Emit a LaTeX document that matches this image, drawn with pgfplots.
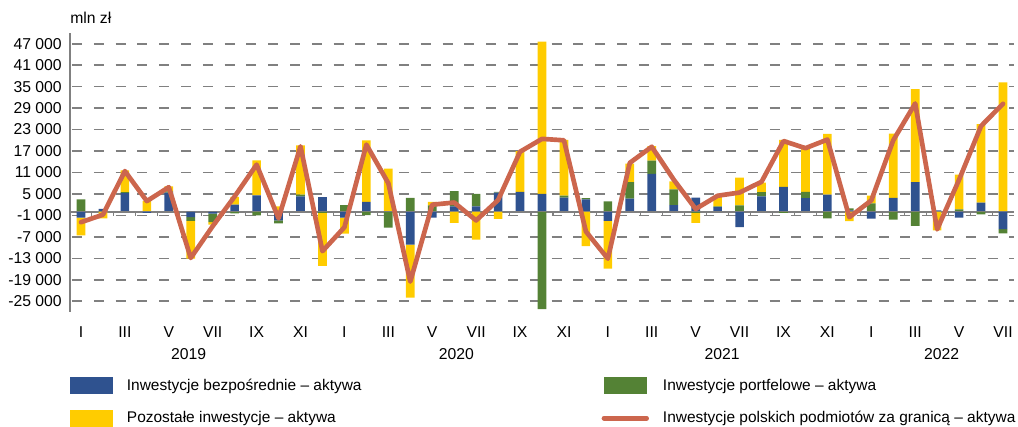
\documentclass[border=0pt]{standalone}
\usepackage{pgfplots}
\pgfplotsset{compat=1.18}
\usepackage{pgfplotstable}
\usepackage{fontspec}
\setmainfont{Liberation Sans}
\definecolor{cblue}{RGB}{47,82,143}
\definecolor{cgreen}{RGB}{84,130,53}
\definecolor{cyellow}{RGB}{255,204,0}
\definecolor{cline}{RGB}{204,102,77}
\definecolor{cgrid}{RGB}{128,128,128}

% b = Inwestycje bezposrednie, g = portfelowe, y = pozostale, t = razem (mln zl)
\pgfplotstableread{
x b g y t
0 -1600 3500 -5000 -2900
1 800 0 -1800 -800
2 5200 300 6100 11400
3 -300 200 2900 3000
4 5400 300 1400 6900
5 -1500 -1000 -10600 -12900
6 -500 -2400 -700 -4000
7 2000 -400 2200 4300
8 4600 -1000 9800 13200
9 -2400 -800 1500 -1800
10 4300 500 13800 18300
11 4100 -300 -14800 -11000
12 -1600 1900 -4500 -4300
13 2800 -900 17200 18800
14 200 -4400 11900 8000
15 -9200 3900 -14800 -19500
16 -1600 1800 1000 2000
17 1500 4300 -3100 2600
18 1500 3500 -7800 -2400
19 5400 200 -2000 3300
20 5600 0 11400 16800
21 5000 -27200 42600 20400
22 4000 500 15600 20000
23 3500 300 -9600 -5500
24 -2500 2900 -13400 -13100
25 3700 4600 5200 13700
26 10600 3700 4100 18200
27 1900 4400 2200 9000
28 4000 -300 -2800 800
29 1300 200 2800 4500
30 -4300 1800 7800 5400
31 4300 1200 2700 8400
32 7000 -300 13100 19800
33 3800 1800 12100 17800
34 4800 -1800 17000 20200
35 400 600 -2600 -1500
36 -1900 2400 2100 3200
37 3900 -2200 18000 20000
38 8300 -3900 26000 30300
39 400 0 -5200 -4900
40 -1600 700 9700 9000
41 2600 -700 21900 24000
42 -4800 -1200 36200 30200
}\data

\pgfplotsset{common/.style={
  scale only axis, width=708pt, height=209.25pt,
  xmin=-0.5, xmax=42.5, ymin=-28000, ymax=50000,
  at={(52.5pt,86.25pt)}, anchor=south west,
  bar width=6.5pt, clip=false, scaled y ticks=false,
},
arealeg/.style={legend image code/.code={\fill[##1] (0pt,-6.5pt) rectangle (32pt,6.5pt);}},
lineleg/.style={legend image code/.code={\draw[##1] (0pt,0pt) -- (32pt,0pt);}},
}
\newcommand{\lf}{\fontsize{11.8}{14}\selectfont}
\newcommand{\lgf}{\fontsize{11.6}{14}\selectfont}

\begin{document}
\begin{tikzpicture}
\path[use as bounding box] (0,0) rectangle (763.5pt,320.25pt);
% positive parts, grid, ticks, labels
\begin{axis}[common, ybar stacked,
  axis lines*=left,
  x axis line style={draw=none},
  y axis line style={cgrid, line width=1.5pt},
  ytick={-25000,-19000,...,47000},
  yticklabels={-25 000,-19 000,-13 000,-7 000,-1 000,5 000,11 000,17 000,23 000,29 000,35 000,41 000,47 000},
  xtick={0,2,...,42},
  xticklabels={I,III,V,VII,IX,XI,I,III,V,VII,IX,XI,I,III,V,VII,IX,XI,I,III,V,VII},
  major tick length=0pt,
  ymajorgrids,
  major grid style={cgrid, line width=1.2pt, dash pattern=on 7.5pt off 8.85pt, dash phase=14.85pt},
  tick label style={font=\lf},
  yticklabel style={inner sep=0pt, xshift=-6pt},
  xticklabel style={inner sep=0pt, yshift=-11pt},
]
\addplot[fill=cblue, draw=none] table[x=x, y expr={max(\thisrow{b},0)}] {\data};
\addplot[fill=cgreen, draw=none] table[x=x, y expr={max(\thisrow{g},0)}] {\data};
\addplot[fill=cyellow, draw=none] table[x=x, y expr={max(\thisrow{y},0)}] {\data};
\node[anchor=south west, inner sep=0pt, font=\lf] at (rel axis cs:0,1) [yshift=7pt] {mln zł};
\node[font=\lf, anchor=north, inner sep=0pt] at (axis cs:4.9,-28000) [yshift=-27pt] {2019};
\node[font=\lf, anchor=north, inner sep=0pt] at (axis cs:17.1,-28000) [yshift=-27pt] {2020};
\node[font=\lf, anchor=north, inner sep=0pt] at (axis cs:29.2,-28000) [yshift=-27pt] {2021};
\node[font=\lf, anchor=north, inner sep=0pt] at (axis cs:39.2,-28000) [yshift=-27pt] {2022};
\end{axis}
% negative parts
\begin{axis}[common, ybar stacked, hide axis]
\addplot[fill=cblue, draw=none] table[x=x, y expr={min(\thisrow{b},0)}] {\data};
\addplot[fill=cgreen, draw=none] table[x=x, y expr={min(\thisrow{g},0)}] {\data};
\addplot[fill=cyellow, draw=none] table[x=x, y expr={min(\thisrow{y},0)}] {\data};
\draw[cgrid, line width=1.2pt] (axis cs:-0.5,0) -- (axis cs:42.5,0);
\pgfplotsinvokeforeach{0,...,41}{\draw[cgrid, line width=0.8pt] (axis cs:#1.5,0) -- ++(0pt,-3pt);}
\end{axis}
% total line and legend
\begin{axis}[common, hide axis,
  legend columns=2,
  legend cell align=left,
  legend style={at={(0,-0.229)}, anchor=north west, draw=none, fill=none,
    inner sep=0pt, font=\lgf, row sep=10.5pt,
    /tikz/every odd column/.append style={column sep=8.5pt},
    /tikz/every even column/.append style={column sep=178pt}},
]
\addlegendimage{fill=cblue, draw=none, arealeg}
\addlegendentry{Inwestycje bezpośrednie – aktywa}
\addlegendimage{fill=cgreen, draw=none, arealeg}
\addlegendentry{Inwestycje portfelowe – aktywa}
\addlegendimage{fill=cyellow, draw=none, arealeg}
\addlegendentry{Pozostałe inwestycje – aktywa}
\addplot[sharp plot, draw=cline, line width=3.5pt, line join=round, line cap=round, mark=none, lineleg] table[x=x, y=t] {\data};
\addlegendentry{Inwestycje polskich podmiotów za granicą – aktywa}
\end{axis}
\end{tikzpicture}
\end{document}
